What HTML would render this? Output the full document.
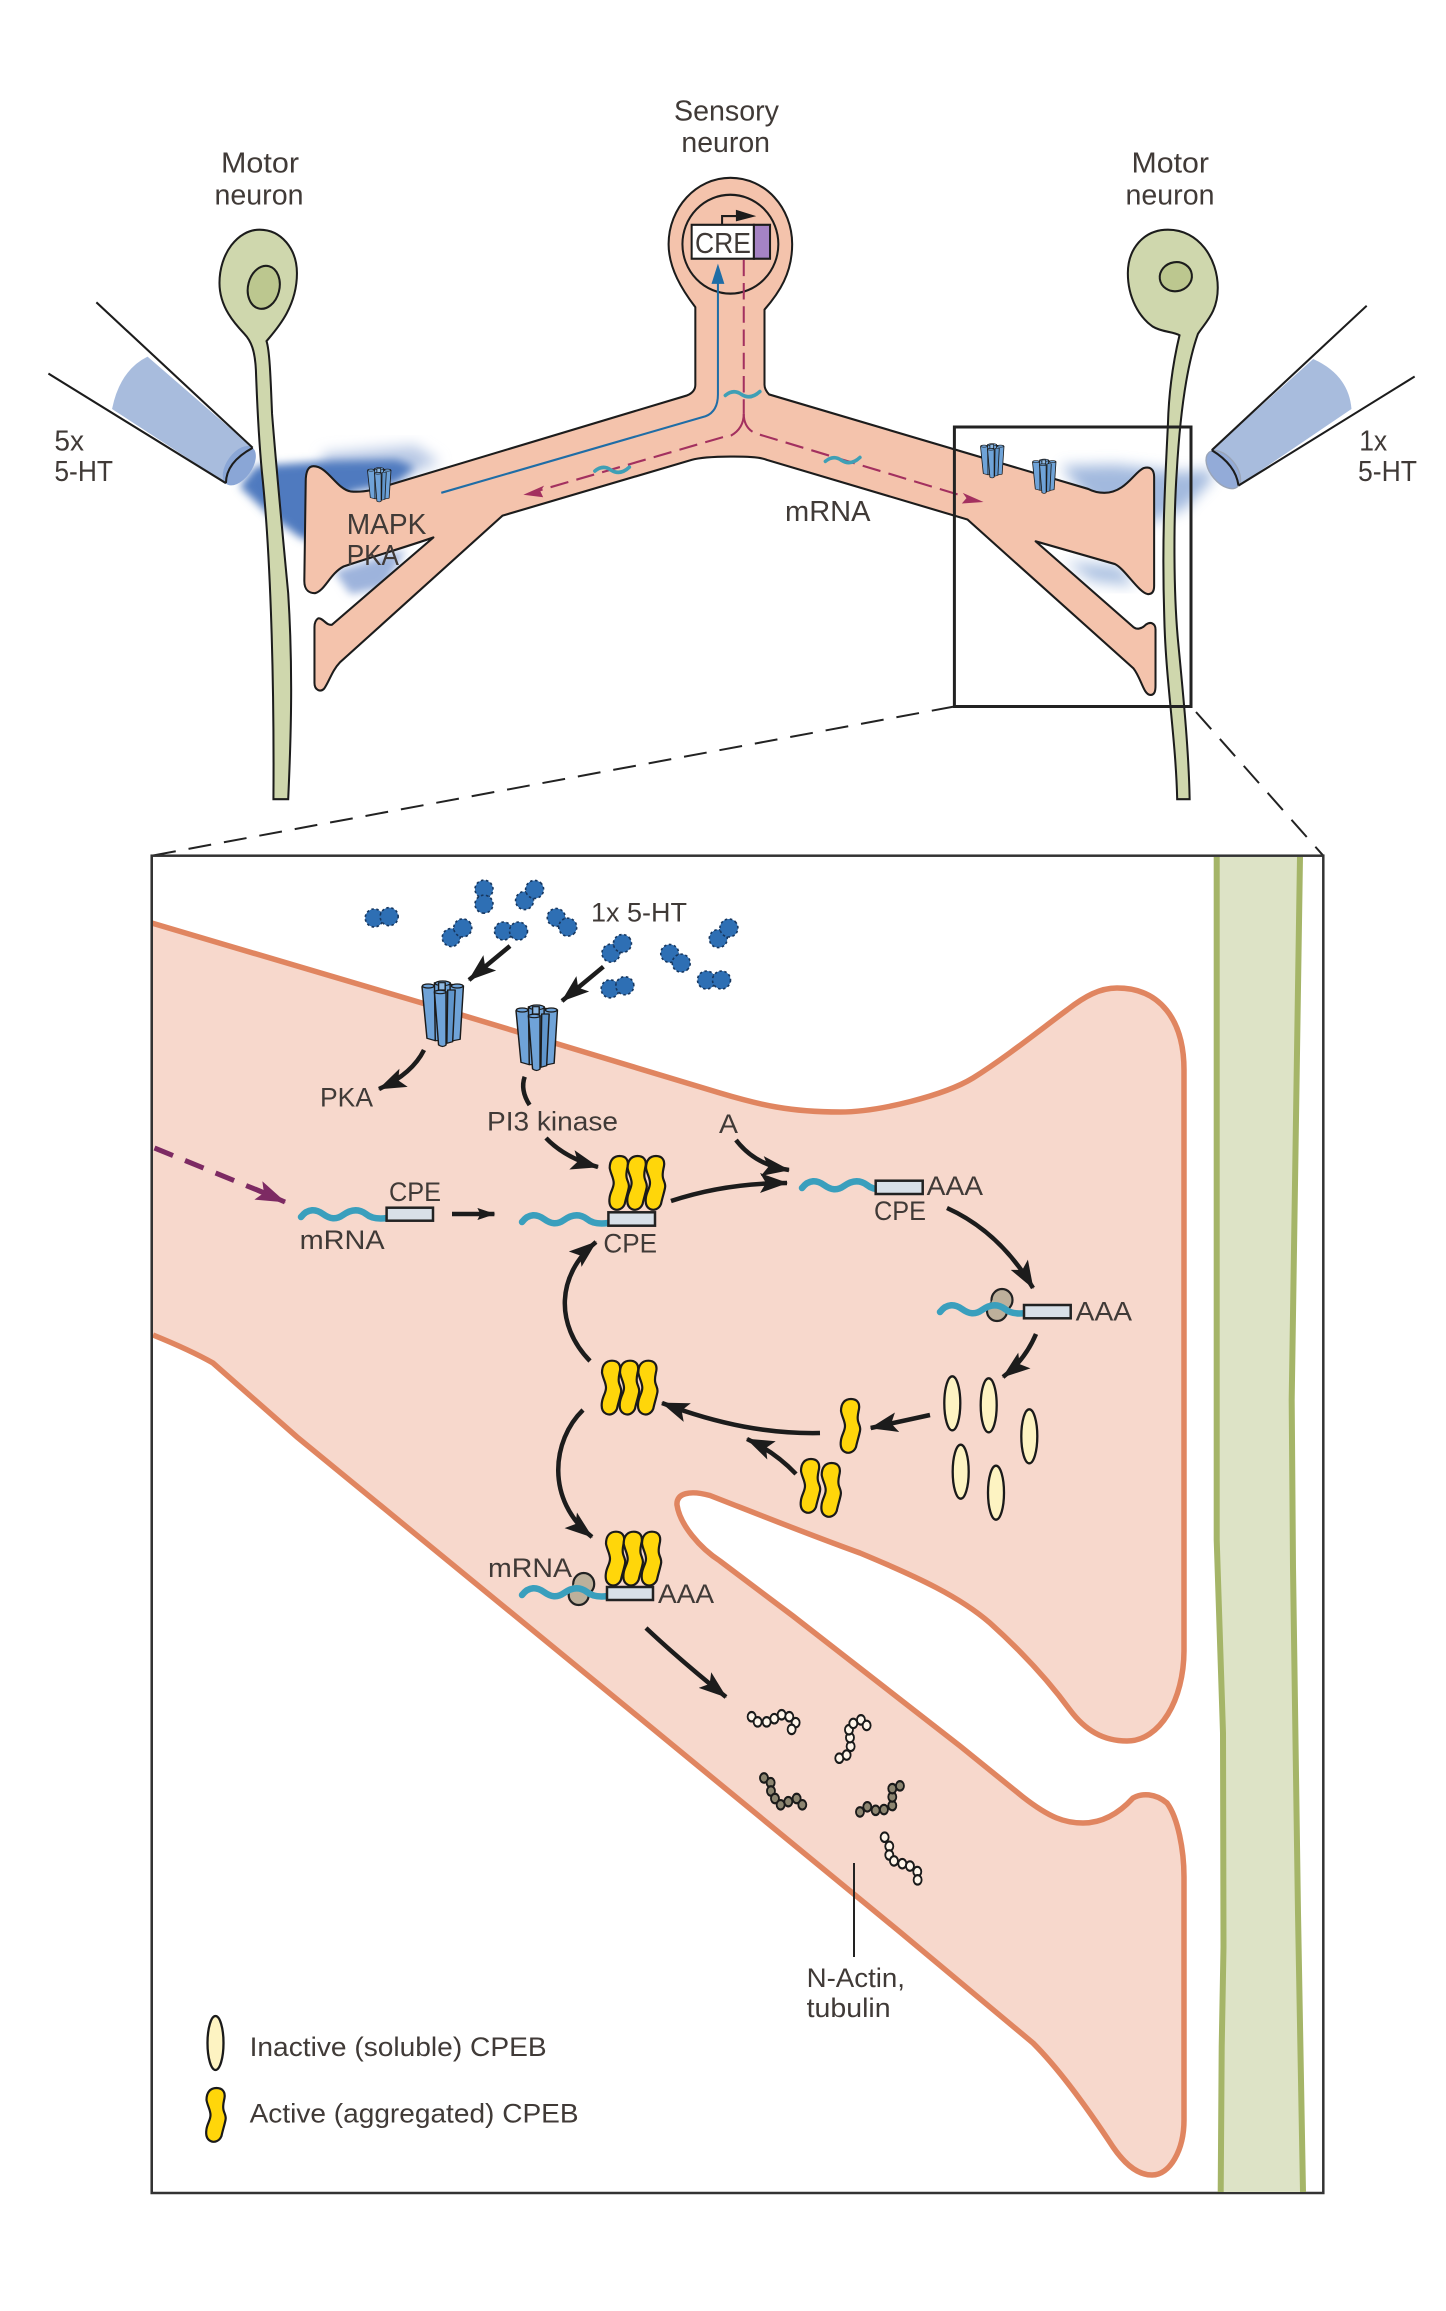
<!DOCTYPE html>
<html>
<head>
<meta charset="utf-8">
<style>
html,body{margin:0;padding:0;background:#fff}
svg{display:block}
text{font-family:"Liberation Sans",sans-serif;fill:#403a37}
.u{font-size:29px}
.l{font-size:27px}
</style>
</head>
<body>
<svg xmlns="http://www.w3.org/2000/svg" width="1446" height="2311" viewBox="0 0 1446 2311">
<defs>
<marker id="mk" markerUnits="userSpaceOnUse" markerWidth="28" markerHeight="22" refX="27" refY="11" orient="auto" viewBox="0 0 28 22"><path d="M0,1 L28,11 L0,21 L6,11 Z" fill="#1c1c1c"/></marker>
<marker id="ms" markerUnits="userSpaceOnUse" markerWidth="18" markerHeight="12" refX="17" refY="6" orient="auto" viewBox="0 0 18 12"><path d="M0,0 L18,6 L0,12 L3,6 Z" fill="#1c1c1c"/></marker>
<marker id="mm" markerUnits="userSpaceOnUse" markerWidth="30" markerHeight="22" refX="29" refY="11" orient="auto" viewBox="0 0 30 22"><path d="M0,1 L30,11 L0,21 L6,11 Z" fill="#7d2a63"/></marker>
<filter id="bl" x="-30%" y="-30%" width="160%" height="160%"><feGaussianBlur stdDeviation="14"/></filter>
<filter id="bs" x="-30%" y="-30%" width="160%" height="160%"><feGaussianBlur stdDeviation="9"/></filter>
<g id="rec" stroke="#1b1b1b" stroke-width="3.5" fill="#6fa3d8" stroke-linejoin="round">
<path d="M0,20 L12,175 L32,182 L32,15 Z"/>
<path d="M65,12 L100,18 L92,178 L68,184 Z"/>
<path d="M30,8 L68,8 L66,180 L32,182 Z"/>
<path d="M30,35 L40,195 Q50,204 58,195 L58,35 Q44,25 30,35 Z"/>
<path d="M62,30 L80,30 L74,185 L60,190 Z" fill="#5f95cc"/>
<ellipse cx="15" cy="18" rx="14" ry="6"/><ellipse cx="85" cy="18" rx="14" ry="6"/><ellipse cx="50" cy="10" rx="18" ry="7"/>
<rect x="40" y="8" width="16" height="22" fill="#8fb9e2"/>
<ellipse cx="44" cy="36" rx="14" ry="5"/>
</g>
<path id="yel" d="M1,-27 C7,-27 10,-23 9,-17 C8,-12 7,-9 8,-5 C9,-1 11,1 10,5 C9,10 7,16 6,21 C4,26 -1,28 -5,26 C-9,24 -10,20 -9,14 C-8,8 -5,5 -5,0 C-5,-5 -8,-9 -9,-15 C-9,-23 -5,-27 1,-27 Z" fill="#ffd60a" stroke="#1a1a1a" stroke-width="2.2"/>
<path id="rna" d="M0,0 C7,-9 15,-8 22,-3 C29,2 35,3 42,-2 C49,-7 57,-9 65,-3 C71,2 79,2 86,1" fill="none" stroke="#3a9fbd" stroke-width="6.5" stroke-linecap="round"/>
<g id="ht"><circle cx="-7.5" cy="0" r="9" fill="#2e6fb4" stroke="#17375f" stroke-width="1.6" stroke-dasharray="2.5 2.5"/><circle cx="7.5" cy="0" r="9" fill="#2e6fb4" stroke="#17375f" stroke-width="1.6" stroke-dasharray="2.5 2.5"/></g>
<g id="rib" stroke="#222" stroke-width="2.2" fill="#bdb09b"><ellipse cx="2" cy="-5" rx="10.5" ry="11"/><ellipse cx="-3" cy="6" rx="10" ry="10"/><ellipse cx="0" cy="0" rx="9" ry="9" stroke="none"/></g>
</defs>

<!-- upper diagram -->
<g transform="translate(0,60) scale(.4611,.4847)">
<path d="M700,812 L900,795 L955,830 L860,865 L700,855 Z" fill="#b9c9e5" filter="url(#bl)"/>
<path d="M555,838 L700,828 L860,825 L900,840 L860,872 L760,892 L700,1000 L650,985 L580,935 L520,880 Z" fill="#4f7abf" filter="url(#bs)"/>
<path d="M725,1055 L880,1010 L835,1088 L760,1102 Z" fill="#9db3dc" filter="url(#bs)"/>
<path d="M2300,838 L2420,835 L2560,850 L2625,845 L2630,865 L2570,925 L2505,950 L2400,950 Z" fill="#8ba8d6" opacity=".8" filter="url(#bl)"/>
<path d="M2310,1035 L2430,1045 L2460,1085 L2370,1075 Z" fill="#a9bfe0" filter="url(#bl)"/>

<path d="M320,612 Q260,640 243,720 L490,873 L548,800 Z" fill="#a8bcdd"/>
<path d="M2848,617 Q2925,650 2931,720 L2686,878 L2628,805 Z" fill="#a8bcdd"/>
<ellipse cx="519" cy="837" rx="27" ry="47" transform="rotate(38 519 837)" fill="#8aa6d6"/>
<ellipse cx="2653" cy="845" rx="27" ry="47" transform="rotate(-42 2653 845)" fill="#93abd8" stroke="#9aa5b8" stroke-width="3"/>
<g stroke="#1c1c1c" stroke-width="4.4" fill="none">
<path d="M209,500 L548,800"/><path d="M105,647 L490,873"/>
<path d="M2964,507 L2628,805"/><path d="M3068,653 L2686,878"/>
<path d="M548,800 Q490,830 490,873"/>
<path d="M2628,805 Q2680,835 2686,878"/>
</g>

<path d="M578,580 C600,555 644,510 644,440 C644,390 610,350 563,350 C515,350 476,400 476,460 C476,510 510,545 530,565 C545,580 553,600 555,640 C558,720 563,800 568,850 C585,1000 595,1250 593,1525 L625,1525 C632,1380 635,1250 625,1100 C615,1000 600,850 590,730 C587,660 585,600 578,580 Z" fill="#cfd7ad" stroke="#1c1c1c" stroke-width="4.4"/>
<ellipse cx="572" cy="469" rx="34" ry="45" transform="rotate(15 572 469)" fill="#bcc78f" stroke="#1c1c1c" stroke-width="4.4"/>
<path d="M2558,568 C2545,620 2535,680 2533,750 C2525,900 2520,1000 2525,1150 C2528,1280 2550,1400 2553,1525 L2580,1525 C2578,1420 2565,1300 2555,1200 C2545,1100 2545,950 2552,850 C2558,750 2570,640 2598,565 C2615,540 2641,520 2641,470 C2641,410 2600,350 2533,350 C2480,350 2446,390 2446,440 C2446,490 2470,530 2500,550 C2520,562 2545,560 2558,568 Z" fill="#cfd7ad" stroke="#1c1c1c" stroke-width="4.4"/>
<ellipse cx="2550" cy="447" rx="35" ry="30" transform="rotate(-8 2550 447)" fill="#bcc78f" stroke="#1c1c1c" stroke-width="4.4"/>

<path d="M1658,515 C1690,480 1718,440 1718,380 C1718,305 1660,243 1584,243 C1510,243 1450,305 1450,380 C1450,430 1480,475 1508,510 L1508,670 Q1508,685 1490,692 L850,875 C820,885 790,893 760,890 C730,885 710,838 680,838 C668,838 663,850 663,870 L660,1075 C660,1095 672,1100 683,1100 C705,1095 715,1060 745,1045 C790,1030 880,1005 940,985 L720,1165 C708,1168 700,1150 690,1152 C685,1155 682,1160 682,1170 L682,1285 C682,1300 695,1305 703,1297 C715,1280 720,1260 737,1243 L1090,940 L1500,825 C1530,817 1640,815 1663,825 L2098,948 L2458,1255 C2475,1275 2480,1310 2495,1310 C2505,1310 2506,1300 2506,1290 L2506,1175 C2506,1162 2495,1158 2485,1165 C2475,1175 2465,1175 2458,1170 L2246,993 L2418,1040 C2440,1050 2470,1100 2490,1102 C2500,1102 2503,1095 2503,1085 L2503,860 C2503,845 2495,838 2480,842 C2460,850 2440,893 2395,893 C2380,893 2370,890 2360,885 L1668,690 Q1658,680 1658,670 Z" fill="#f4c3ac" stroke="#1c1c1c" stroke-width="4.4" stroke-linejoin="round"/>
<ellipse cx="1584" cy="380" rx="104" ry="102" fill="#f4c3ac" stroke="#1c1c1c" stroke-width="4.4"/>
<rect x="1500" y="340" width="135" height="70" fill="#fff" stroke="#1c1c1c" stroke-width="4.4"/>
<rect x="1635" y="340" width="35" height="70" fill="#a583c4" stroke="#1c1c1c" stroke-width="4.4"/>
<path d="M1566,340 L1566,322 L1600,322" fill="none" stroke="#1c1c1c" stroke-width="4.4"/>
<path d="M1596,309 L1640,322 L1596,333 Z" fill="#1c1c1c"/>

<path d="M957,893 L1530,735 Q1557,725 1557,690 L1557,450" fill="none" stroke="#1f6da6" stroke-width="4.4"/>
<path d="M1557,420 L1571,462 L1543,462 Z" fill="#1f6da6"/>
<g fill="none" stroke="#a3305f" stroke-width="4.4">
<path d="M1613,412 L1613,730" stroke-dasharray="34 14"/>
<path d="M1613,730 Q1613,760 1585,775"/>
<path d="M1613,730 Q1613,755 1632,767"/>
<path d="M1568,778 L1170,888" stroke-dasharray="40 18"/>
<path d="M1648,773 L2090,900" stroke-dasharray="40 18"/>
</g>
<path d="M1135,897 L1180,878 L1172,890 L1178,902 Z" fill="#a3305f"/>
<path d="M2133,912 L2088,893 L2096,904 L2086,915 Z" fill="#a3305f"/>
<g fill="none" stroke="#3f9fb5" stroke-width="7.5" stroke-linecap="round">
<path d="M1290,848 q18,-14 35,-2 q20,12 40,-6"/>
<path d="M1573,692 q18,-14 35,-2 q20,12 40,-6"/>
<path d="M1790,828 q18,-14 35,-2 q20,12 40,-6"/>
</g>
</g>

<use href="#rec" transform="translate(367.5,467) scale(.235,.175)"/>
<use href="#rec" transform="translate(980.5,443) scale(.235,.175)"/>
<use href="#rec" transform="translate(1032.5,458.5) scale(.235,.175)"/>

<rect x="954.4" y="427" width="236.6" height="279.5" fill="none" stroke="#222" stroke-width="3"/>
<g stroke="#222" stroke-width="2" stroke-dasharray="23 13" fill="none">
<path d="M954.4,706.5 L151.7,855.7"/>
<path d="M1196,712 L1323.3,855.7"/>
</g>

<g class="u">
<text x="674" y="120.6" textLength="105" lengthAdjust="spacingAndGlyphs">Sensory</text>
<text x="681.4" y="152" textLength="88.6" lengthAdjust="spacingAndGlyphs">neuron</text>
<text x="221" y="172.5" textLength="78" lengthAdjust="spacingAndGlyphs">Motor</text>
<text x="214.5" y="204.5" textLength="89" lengthAdjust="spacingAndGlyphs">neuron</text>
<text x="1131.5" y="172.5" textLength="77.5" lengthAdjust="spacingAndGlyphs">Motor</text>
<text x="1125.5" y="204.5" textLength="89" lengthAdjust="spacingAndGlyphs">neuron</text>
<text x="54.4" y="450.4" textLength="29.6" lengthAdjust="spacingAndGlyphs">5x</text>
<text x="54.4" y="481" textLength="58.6" lengthAdjust="spacingAndGlyphs">5-HT</text>
<text x="1359.2" y="450.4" textLength="28" lengthAdjust="spacingAndGlyphs">1x</text>
<text x="1358" y="481" textLength="59" lengthAdjust="spacingAndGlyphs">5-HT</text>
<text x="346.7" y="534" textLength="79.7" lengthAdjust="spacingAndGlyphs">MAPK</text>
<text x="346.7" y="565" textLength="52.3" lengthAdjust="spacingAndGlyphs">PKA</text>
<text x="785" y="521" textLength="85.5" lengthAdjust="spacingAndGlyphs">mRNA</text>
<text x="695" y="253" textLength="56" lengthAdjust="spacingAndGlyphs">CRE</text>
</g>

<!-- lower panel -->
<rect x="151.7" y="855.7" width="1171.6" height="1337.3" fill="#fff" stroke="#333" stroke-width="2.5"/>
<path d="M1216.7,857 L1216.7,1540 L1223,1733 L1223.5,1947 L1221.7,2047 L1220.7,2192 L1303,2192 L1298,1913 L1293,1567 L1291.7,1400 L1300,857 Z" fill="#dde3c6"/>
<g fill="none" stroke="#a5b568" stroke-width="6">
<path d="M1216.7,857 L1216.7,1540 L1223,1733 L1223.5,1947 L1221.7,2047 L1220.7,2192"/>
<path d="M1303,2192 L1298,1913 L1293,1567 L1291.7,1400 L1300,857"/>
</g>
<path d="M151.7,923 L422,1003 L554.5,1043 L720,1093 C760,1105 790,1112 840,1112 C880,1112 945,1095 973,1078 C1005,1058 1040,1030 1067,1010 C1085,996 1100,988 1117,988 C1160,988 1184,1020 1184,1070 L1184,1650 C1184,1700 1160,1741 1127,1741 C1103,1741 1085,1730 1070,1710 C1048,1680 1020,1650 990,1623 C960,1597 920,1578 860,1553 C810,1535 760,1515 710,1495.5 C690,1490 676,1493 677,1505 C680,1525 700,1548 720,1561 L793,1616 L960,1746 L1023,1797 C1050,1818 1065,1823 1083,1823 C1105,1823 1122,1810 1133,1798 C1142,1793 1155,1793 1167,1803 C1178,1818 1184,1850 1184,1877 L1184,2120 C1184,2150 1170,2175 1152,2175 C1135,2175 1122,2160 1113,2147 C1090,2112 1060,2070 1033,2043 L900,1932 L630,1710 L297,1437 L213,1363 Q190,1350 153,1335" fill="#f7d8cc" stroke="#e08560" stroke-width="5.5"/>
<rect x="150.5" y="855.7" width="2.5" height="1337.3" fill="#333"/>

<!-- 5-HT dimers -->
<use href="#ht" transform="translate(381.7,917.3) rotate(-5)"/>
<use href="#ht" transform="translate(484,896.7) rotate(90)"/>
<use href="#ht" transform="translate(529.6,895) rotate(-48)"/>
<use href="#ht" transform="translate(457,932.7) rotate(-40)"/>
<use href="#ht" transform="translate(511,931)"/>
<use href="#ht" transform="translate(562,922.3) rotate(40)"/>
<use href="#ht" transform="translate(616.7,948.3) rotate(-40)"/>
<use href="#ht" transform="translate(723.6,933.3) rotate(-45)"/>
<use href="#ht" transform="translate(675.5,958.3) rotate(40)"/>
<use href="#ht" transform="translate(714,980)"/>
<use href="#ht" transform="translate(617.5,987.3) rotate(-12)"/>

<!-- receptors -->
<use href="#rec" transform="translate(422,980) scale(.4145,.3333)"/>
<use href="#rec" transform="translate(516,1004) scale(.4145,.3333)"/>

<!-- RNA, ribosome, CPE -->
<use href="#rna" transform="translate(301,1217)"/>
<use href="#rna" transform="translate(522,1222)"/>
<use href="#rna" transform="translate(802,1188)"/>
<use href="#rib" transform="translate(1000,1305)"/>
<use href="#rna" transform="translate(940,1312)"/>
<use href="#rib" transform="translate(581.7,1589)"/>
<use href="#rna" transform="translate(522,1595)"/>
<g fill="#d8e0e8" stroke="#222" stroke-width="2.5">
<rect x="386.6" y="1207.7" width="46.4" height="13"/>
<rect x="608.4" y="1212.3" width="46.6" height="13.4"/>
<rect x="875.7" y="1180.7" width="47" height="13.3"/>
<rect x="1024" y="1305" width="46.7" height="13.3"/>
<rect x="607" y="1587" width="46" height="13"/>
</g>

<!-- yellow active CPEB -->
<use href="#yel" transform="translate(618.7,1183)"/>
<use href="#yel" transform="translate(636.6,1183)"/>
<use href="#yel" transform="translate(655,1183)"/>
<use href="#yel" transform="translate(611,1387.7)"/>
<use href="#yel" transform="translate(629,1387.7)"/>
<use href="#yel" transform="translate(647.3,1387.7)"/>
<use href="#yel" transform="translate(615,1558.7)"/>
<use href="#yel" transform="translate(632.7,1558.7)"/>
<use href="#yel" transform="translate(651,1558.7)"/>
<use href="#yel" transform="translate(850,1426)"/>
<use href="#yel" transform="translate(810,1486)"/>
<use href="#yel" transform="translate(830.7,1490)"/>
<use href="#yel" transform="translate(215.5,2115)"/>

<!-- inactive -->
<g fill="#fdf3c2" stroke="#1a1a1a" stroke-width="2.3">
<ellipse cx="952.3" cy="1403.3" rx="8" ry="27"/>
<ellipse cx="988.7" cy="1405.3" rx="8" ry="27"/>
<ellipse cx="1029.3" cy="1436.3" rx="8" ry="27"/>
<ellipse cx="960.7" cy="1471.7" rx="8" ry="27"/>
<ellipse cx="996" cy="1492.7" rx="8" ry="27"/>
<ellipse cx="215.5" cy="2043" rx="8" ry="27"/>
</g>

<!-- arrows -->
<g fill="none" stroke="#1c1c1c" stroke-width="4.5">
<path d="M510,946 L469,980" marker-end="url(#mk)"/>
<path d="M603.4,966.7 L562,1001" marker-end="url(#mk)"/>
<path d="M424,1050 Q412,1074 379,1089" marker-end="url(#mk)"/>
<path d="M524.7,1076.7 Q520,1090 529.6,1105"/>
<path d="M546,1138 Q565,1158 598,1167" marker-end="url(#mk)"/>
<path d="M736,1140 Q755,1165 789,1170" marker-end="url(#mk)"/>
<path d="M671,1201 Q725,1183 787,1183" marker-end="url(#mk)"/>
<path d="M452,1214 L494.4,1214" marker-end="url(#ms)"/>
<path d="M590,1361 C555,1325 556,1275 596,1242" marker-end="url(#mk)"/>
<path d="M583,1410 C552,1440 545,1500 592,1537" marker-end="url(#mk)"/>
<path d="M947,1208 Q1000,1232 1033,1288" marker-end="url(#mk)"/>
<path d="M1036,1334 Q1025,1360 1003,1377" marker-end="url(#mk)"/>
<path d="M930,1415 L870.7,1428" marker-end="url(#mk)"/>
<path d="M820,1433 C770,1434 720,1425 662,1403" marker-end="url(#mk)"/>
<path d="M796,1474 Q775,1452 747,1439" marker-end="url(#mk)"/>
<path d="M646,1628 Q680,1660 726,1697" marker-end="url(#mk)"/>
</g>
<path d="M154.5,1148 L262,1192" fill="none" stroke="#7d2a63" stroke-width="5" stroke-dasharray="20 13"/>
<path d="M255,1189 L285,1202" fill="none" stroke="#7d2a63" stroke-width="5" marker-end="url(#mm)"/>
<path d="M854,1863 L854,1957" stroke="#222" stroke-width="2"/>

<!-- actin -->
<g transform="translate(460,1300) scale(.3333,.395)" stroke="#1a1a1a" stroke-width="5.5">
<g fill="#fff6ea">
<circle cx="875" cy="1055" r="12"/><circle cx="893" cy="1068" r="12"/><circle cx="920" cy="1068" r="12"/><circle cx="943" cy="1060" r="12"/><circle cx="965" cy="1050" r="12"/><circle cx="988" cy="1055" r="12"/><circle cx="1007" cy="1070" r="12"/><circle cx="995" cy="1087" r="12"/>
<circle cx="1138" cy="1160" r="12"/><circle cx="1160" cy="1152" r="12"/><circle cx="1172" cy="1130" r="12"/><circle cx="1170" cy="1108" r="12"/><circle cx="1167" cy="1088" r="12"/><circle cx="1180" cy="1072" r="12"/><circle cx="1203" cy="1063" r="12"/><circle cx="1220" cy="1077" r="12"/>
<circle cx="1274" cy="1360" r="12"/><circle cx="1288" cy="1383" r="12"/><circle cx="1288" cy="1405" r="12"/><circle cx="1302" cy="1420" r="12"/><circle cx="1327" cy="1427" r="12"/><circle cx="1350" cy="1433" r="12"/><circle cx="1372" cy="1447" r="12"/><circle cx="1373" cy="1468" r="12"/>
</g>
<g fill="#8c8570">
<circle cx="912" cy="1210" r="12"/><circle cx="932" cy="1222" r="12"/><circle cx="933" cy="1243" r="12"/><circle cx="945" cy="1262" r="12"/><circle cx="962" cy="1278" r="12"/><circle cx="985" cy="1270" r="12"/><circle cx="1010" cy="1262" r="12"/><circle cx="1027" cy="1278" r="12"/>
<circle cx="1200" cy="1296" r="12"/><circle cx="1222" cy="1283" r="12"/><circle cx="1247" cy="1292" r="12"/><circle cx="1272" cy="1290" r="12"/><circle cx="1297" cy="1280" r="12"/><circle cx="1297" cy="1258" r="12"/><circle cx="1297" cy="1237" r="12"/><circle cx="1320" cy="1230" r="12"/>
</g>
</g>

<g class="l">
<text x="591" y="921.7" textLength="96" lengthAdjust="spacingAndGlyphs">1x 5-HT</text>
<text x="320" y="1106.7" textLength="53" lengthAdjust="spacingAndGlyphs">PKA</text>
<text x="487" y="1130.7" textLength="131" lengthAdjust="spacingAndGlyphs">PI3 kinase</text>
<text x="719" y="1133" textLength="19" lengthAdjust="spacingAndGlyphs">A</text>
<text x="389" y="1201" textLength="52" lengthAdjust="spacingAndGlyphs">CPE</text>
<text x="299.6" y="1249" textLength="85" lengthAdjust="spacingAndGlyphs">mRNA</text>
<text x="603.4" y="1252.7" textLength="53.6" lengthAdjust="spacingAndGlyphs">CPE</text>
<text x="926.7" y="1195" textLength="56.3" lengthAdjust="spacingAndGlyphs">AAA</text>
<text x="874" y="1220" textLength="52" lengthAdjust="spacingAndGlyphs">CPE</text>
<text x="1075.7" y="1320.7" textLength="56.3" lengthAdjust="spacingAndGlyphs">AAA</text>
<text x="488" y="1577" textLength="84" lengthAdjust="spacingAndGlyphs">mRNA</text>
<text x="658" y="1603" textLength="56" lengthAdjust="spacingAndGlyphs">AAA</text>
<text x="806.6" y="1987" textLength="98.4" lengthAdjust="spacingAndGlyphs">N-Actin,</text>
<text x="806.6" y="2017" textLength="84" lengthAdjust="spacingAndGlyphs">tubulin</text>
<text x="249.6" y="2056" textLength="297" lengthAdjust="spacingAndGlyphs">Inactive (soluble) CPEB</text>
<text x="249.6" y="2122.7" textLength="329" lengthAdjust="spacingAndGlyphs">Active (aggregated) CPEB</text>
</g>
</svg>
</body>
</html>
